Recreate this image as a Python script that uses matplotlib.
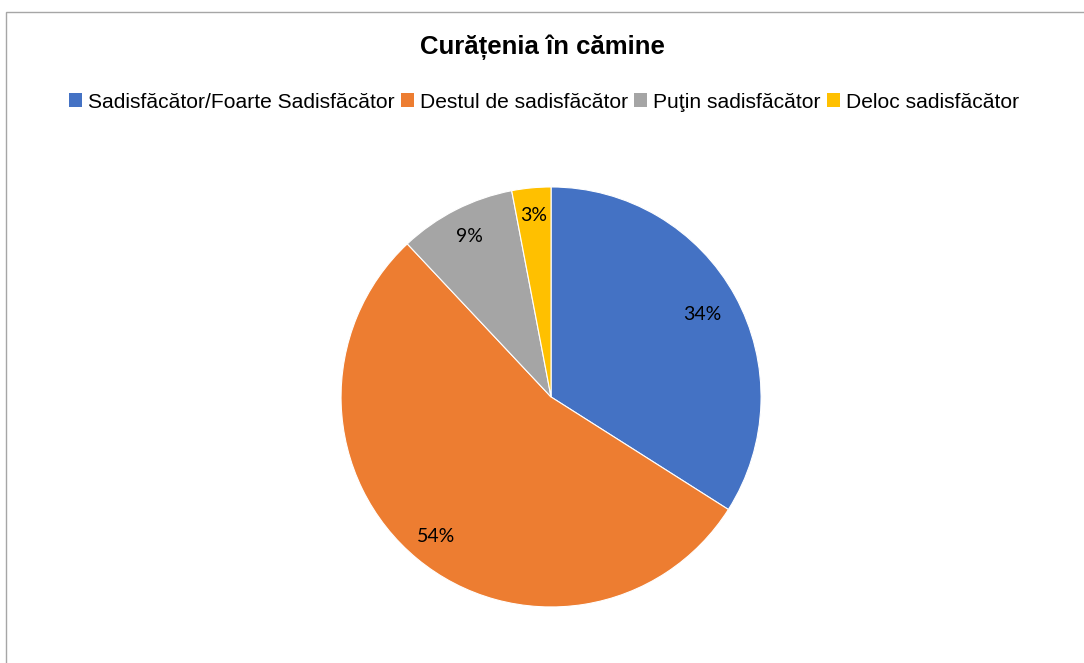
import matplotlib.pyplot as plt
from matplotlib.patches import Rectangle, Patch
import numpy as np

categories = ['Sadisfăcător/Foarte Sadisfăcător', 'Destul de sadisfăcător',
              'Puţin sadisfăcător', 'Deloc sadisfăcător']
values = [34, 54, 9, 3]
colors = ['#4472C4', '#ED7D31', '#A5A5A5', '#FFC000']
title = 'Curățenia în cămine'

fig = plt.figure(figsize=(10.84, 6.63), dpi=100)

# chart frame (only left and top visible in the crop)
fig.patches.append(Rectangle((6 / 1084, -0.1), 1.2, 1 - 12 / 663 + 0.1,
                             transform=fig.transFigure, fill=False,
                             edgecolor='#A6A6A6', linewidth=1.0))

ax = fig.add_axes([0.3146, 0.0845, 0.3875, 0.6335])
wedges, texts, autotexts = ax.pie(
    values, colors=colors, startangle=90, counterclock=False,
    autopct='%1.0f%%', pctdistance=0.85,
    wedgeprops=dict(edgecolor='white', linewidth=0.8),
    textprops=dict(fontsize=14, family='Lato', color='#000000'))
ax.set_xlim(-1, 1)
ax.set_ylim(-1, 1)
ax.set_aspect('equal')

# pull the big blue label a bit inward like the original
for w, t, r in zip(wedges, autotexts, [0.82, 0.86, 0.86, 0.87]):
    ang = np.deg2rad((w.theta1 + w.theta2) / 2)
    t.set_position((r * np.cos(ang), r * np.sin(ang)))

fig.text(542 / 1084, 1 - 47 / 663, title, ha='center', va='center',
         fontsize=18.5, fontweight='bold', family='Liberation Sans')

handles = [Patch(facecolor=c, edgecolor='none') for c in colors]
fig.legend(handles, categories, loc='center', ncol=4,
           bbox_to_anchor=(544 / 1084, 1 - 102 / 663), frameon=False,
           prop=dict(family='Liberation Sans', size=15.1),
           handlelength=0.62, handleheight=0.62, handletextpad=0.28,
           columnspacing=0.3)

fig.savefig('out.png', dpi=100)
